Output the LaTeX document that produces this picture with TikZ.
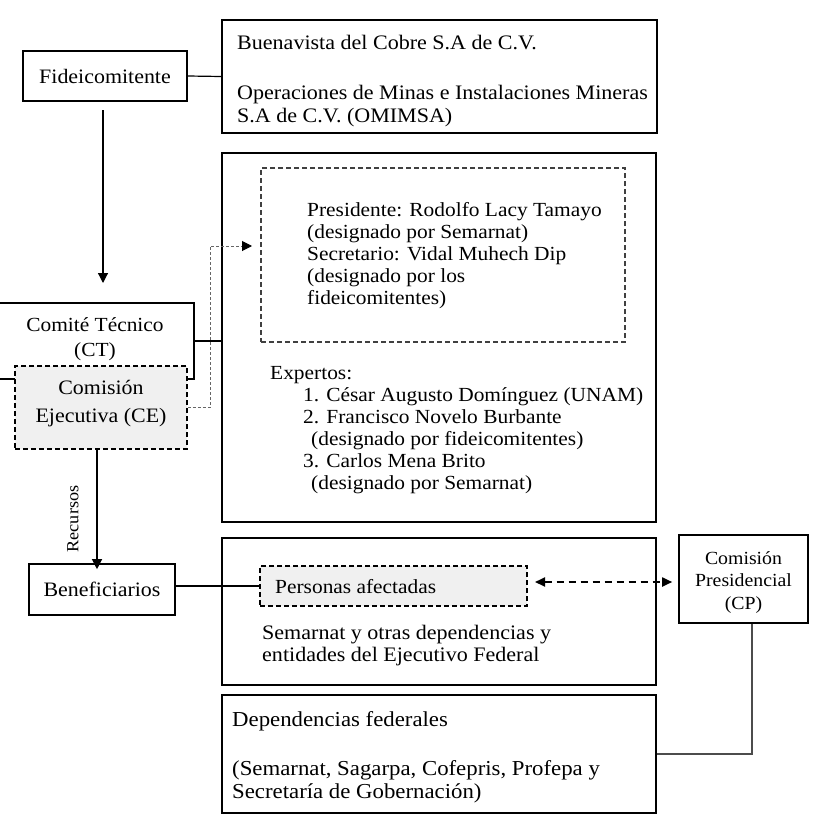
\documentclass[tikz,border=0pt]{standalone}
\usepackage{fontspec}
\setmainfont[FakeStretch=1.07]{Liberation Serif}
\usetikzlibrary{arrows.meta,calc}
\begin{document}
\begin{tikzpicture}[x=1pt,y=-1pt,
  box/.style={draw=black,line width=1.6pt,inner sep=0pt,rectangle},
  dbox/.style={draw=black,line width=1.5pt,dash pattern=on 5pt off 3pt,fill=black!6,inner sep=0pt,rectangle},
  gbox/.style={draw=black!75,line width=1.3pt,dash pattern=on 5pt off 3pt,inner sep=0pt,rectangle},
  txt/.style={inner sep=0pt,align=left,font=\fontsize{20}{22}\selectfont},
  ctxt/.style={inner sep=0pt,align=center},
  conn/.style={draw=black,line width=1.2pt},
  arr/.style={conn,-{Triangle[length=10pt,width=10pt]}},
  gconn/.style={draw=black!60,line width=1pt,dash pattern=on 3pt off 2pt,-{Triangle[length=10pt,width=10pt,color=black]}},
  darr/.style={draw=black,line width=1.8pt,dash pattern=on 7pt off 5pt,{Triangle[length=10pt,width=9pt]}-{Triangle[length=10pt,width=9pt]}},
  lconn/.style={draw=black!70,line width=1.1pt}]
\useasboundingbox[fill=white] (0,0) rectangle (817,819);

% boxes
\node[box,minimum width=164pt,minimum height=50pt,font=\fontsize{20.5}{22}\selectfont] (fid) at (105,76) {Fideicomitente};
\node[box,minimum width=435pt,minimum height=113pt] (top) at (439.5,76.5) {};
\node[box,minimum width=434pt,minimum height=369pt] (mid) at (439,337.5) {};
\node[gbox,minimum width=364pt,minimum height=174pt] (inner) at (443,255) {};
\node[box,minimum width=199pt,minimum height=76pt] (ct) at (94.5,341) {};
\node[ctxt,font=\fontsize{20}{25}\selectfont] (cttxt) at (95,339) {Comité Técnico\\(CT)};
\node[dbox,minimum width=172pt,minimum height=83pt] (ce) at (101,407.5) {};
\node[ctxt,font=\fontsize{20.5}{28}\selectfont] (cetxt) at (101,404) {Comisión\\Ejecutiva (CE)};
\node[box,minimum width=146pt,minimum height=51pt,font=\fontsize{20.5}{22}\selectfont] (ben) at (102,589.5) {Beneficiarios};
\node[box,minimum width=434pt,minimum height=147pt] (low) at (439,611.5) {};
\node[dbox,minimum width=267pt,minimum height=40pt] (pa) at (393.5,586) {};
\node[box,minimum width=129pt,minimum height=88pt] (cp) at (743.5,579) {};
\node[ctxt,font=\fontsize{18.5}{22.5}\selectfont] (cptxt) at (743.5,582.5) {Comisión\\Presidencial\\(CP)};
\node[box,minimum width=434pt,minimum height=118pt] (dep) at (439,754) {};

% texts (base anchor = baseline of the last line)
\node[txt,anchor=base west,font=\fontsize{20.6}{22.5}\selectfont] (toptxt) at (237,122) {Buenavista del Cobre S.A de C.V.\\[27.5pt]Operaciones de Minas e Instalaciones Mineras\\S.A de C.V. (OMIMSA)};
\node[txt,anchor=base west] (prestxt) at (307,304) {Presidente: Rodolfo Lacy Tamayo\\(designado por Semarnat)\\Secretario: Vidal Muhech Dip\\(designado por los\\fideicomitentes)};
\node[txt,anchor=base west] (exptxt) at (270,489) {Expertos:\\
\hspace*{33pt}1. César Augusto Domínguez (UNAM)\\
\hspace*{33pt}2. Francisco Novelo Burbante\\
\hspace*{41pt}(designado por fideicomitentes)\\
\hspace*{33pt}3. Carlos Mena Brito\\
\hspace*{41pt}(designado por Semarnat)};
\node[txt,anchor=base west] (patxt) at (275,593) {Personas afectadas};
\node[txt,anchor=base west,font=\fontsize{20.6}{22}\selectfont] (semtxt) at (262,661) {Semarnat y otras dependencias y\\entidades del Ejecutivo Federal};
\node[txt,anchor=base west,font=\fontsize{21.3}{23}\selectfont] (deptxt) at (232,798) {Dependencias federales\\[26pt](Semarnat, Sagarpa, Cofepris, Profepa y\\Secretaría de Gobernación)};
\node[rotate=90,inner sep=0pt,font=\fontsize{17}{18}\selectfont] (rec) at (73,519) {Recursos};

% connectors
\draw[conn] (fid.east) -- (top.west);
\coordinate (fa) at (103,110);
\coordinate (fb) at (103,283);
\draw[arr] (fa) -- (fb);
\draw[conn] (ct.east) -- (ct.east -| mid.west);
\coordinate (g1) at (210,246);
\coordinate (dtip) at (252,246);
\draw[gconn] (ce.east) -| (g1) -- (dtip);
\draw[arr] ([xshift=-4pt]ce.south) -- ([xshift=-5pt,yshift=-6pt]ben.north);
\draw[conn] (ben.east |- pa.west) -- (pa.west);
\coordinate (da) at (535,582);
\draw[darr] (da) -- ([xshift=-6pt]da -| cp.west);
\draw[lconn] ([xshift=8.5pt]cp.south) |- (dep.east);
\end{tikzpicture}
\end{document}
